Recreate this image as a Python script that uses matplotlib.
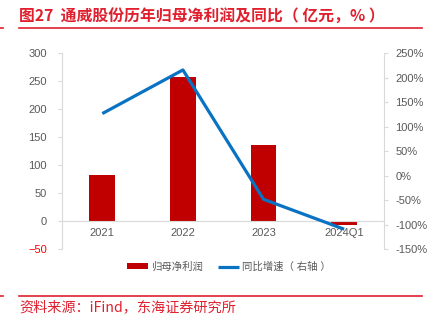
import matplotlib
matplotlib.use("Agg")
import matplotlib.pyplot as plt
from matplotlib.ticker import FuncFormatter

plt.rcParams['font.family'] = ['Liberation Sans', 'Noto Sans CJK SC', 'DejaVu Sans']

categories = ["2021", "2022", "2023", "2024Q1"]
net_profit = [82, 257, 136, -6]          # 亿元
yoy_growth = [127, 216, -48, -109]       # %
left_ticks = [-50, 0, 50, 100, 150, 200, 250, 300]
right_ticks = [-150, -100, -50, 0, 50, 100, 150, 200, 250]

RED = "#C00000"
BLUE = "#0A72C2"
GRAY_TXT = "#595959"
AXIS_GRAY = "#D9D9D9"
TITLE_RED = "#E0202E"

fig = plt.figure(figsize=(4.28, 3.22), dpi=100)
ax = fig.add_axes([0.1449, 0.2258, 0.7533, 0.6087])
x = list(range(len(categories)))

ax.bar(x, net_profit, width=0.32, color=RED, zorder=2, label="归母净利润")
ax.set_xlim(-0.5, 3.5)
ax.set_ylim(-50, 300)
ax.set_yticks(left_ticks)
ax.set_xticks(x)
ax.set_xticklabels(categories)

for s in ["top", "right"]:
    ax.spines[s].set_visible(False)
ax.spines["left"].set_color(AXIS_GRAY)
ax.spines["bottom"].set_color(AXIS_GRAY)
ax.spines["bottom"].set_position(("data", 0))
ax.tick_params(axis="y", colors=AXIS_GRAY, labelcolor=GRAY_TXT, labelsize=8, length=3, pad=8)
ax.tick_params(axis="x", length=0, labelcolor=GRAY_TXT, labelsize=8, pad=5)
for lab, v in zip(ax.get_yticklabels(), left_ticks):
    if v < 0:
        lab.set_color("#FF0000")

ax2 = ax.twinx()
ax2.plot(x, yoy_growth, color=BLUE, linewidth=2.3, zorder=3, label="同比增速（ 右轴 ）",
         solid_capstyle="butt")
ax2.set_ylim(-150, 250)
ax2.set_yticks(right_ticks)
ax2.yaxis.set_major_formatter(FuncFormatter(lambda v, p: f"{int(v)}%"))
for s in ["top", "left", "bottom"]:
    ax2.spines[s].set_visible(False)
ax2.spines["right"].set_color(AXIS_GRAY)
ax2.tick_params(axis="y", colors=AXIS_GRAY, labelcolor=GRAY_TXT, labelsize=8, length=3, pad=5)

h1, l1 = ax.get_legend_handles_labels()
h2, l2 = ax2.get_legend_handles_labels()
leg = fig.legend(h1 + h2, l1 + l2, loc="center", bbox_to_anchor=(0.535, 0.171), ncol=2,
                 frameon=False, fontsize=7.5, labelcolor=GRAY_TXT, handlelength=2.0,
                 handleheight=0.5, columnspacing=1.5, handletextpad=0.25)

# header and footer
fig.text(0.045, 0.950, "图27  通威股份历年归母净利润及同比（ 亿元，% ）", color=TITLE_RED,
         fontsize=11.4, fontweight="bold", va="center", ha="left",
         family=['Noto Sans CJK SC', 'DejaVu Sans'])
fig.add_artist(plt.Line2D([0.045, 0.985], [0.912, 0.912], color=TITLE_RED, linewidth=1.2))
fig.add_artist(plt.Line2D([0.0, 0.007], [0.912, 0.912], color=TITLE_RED, linewidth=1.2))
fig.add_artist(plt.Line2D([0.045, 0.986], [0.082, 0.082], color=TITLE_RED, linewidth=1.2))
fig.add_artist(plt.Line2D([0.0, 0.007], [0.082, 0.082], color=TITLE_RED, linewidth=1.2))
fig.text(0.046, 0.045, "资料来源：iFind，东海证券研究所", color=TITLE_RED, fontsize=10.2,
         va="center", ha="left", family=['Noto Sans CJK SC', 'DejaVu Sans'])

fig.savefig("out.png", dpi=100)
